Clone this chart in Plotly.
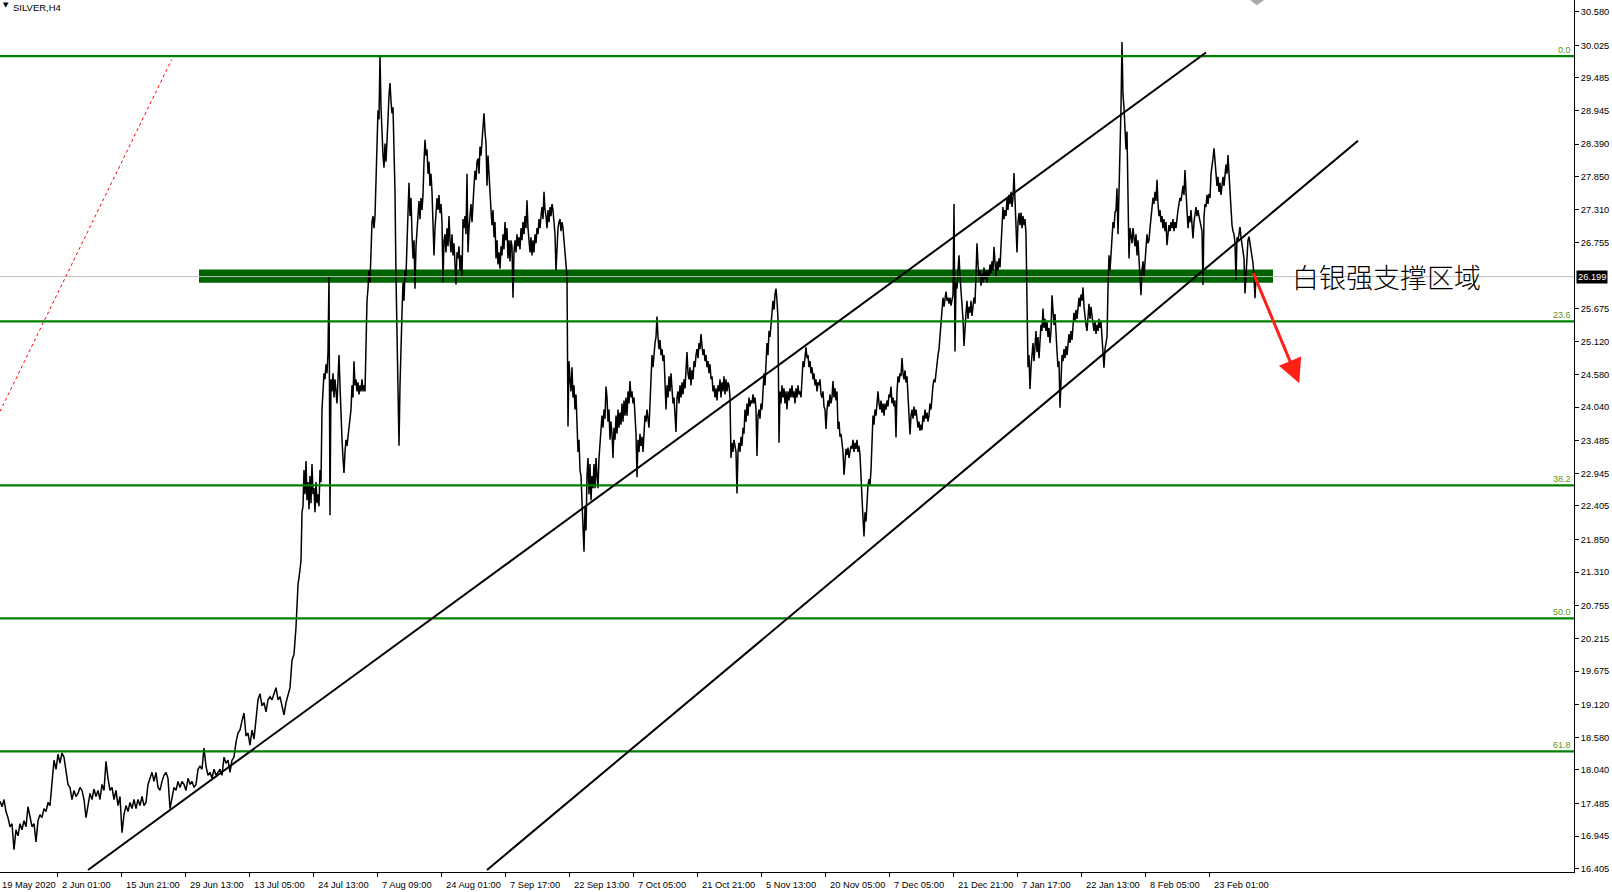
import plotly.graph_objects as go

# ---------------- price series (H4 bars; x = bar index, one bar per pixel column) -------------
# segment A: bars 0..300, every 2nd bar
start_a, step_a = 0, 2
close_a = [
    17.52, 17.43, 17.55, 17.35, 17.25, 17.10, 17.15, 16.72, 17.05, 16.95,
    17.15, 17.05, 17.20, 17.10, 17.43, 17.25, 17.10, 17.15, 16.85, 17.20,
    17.30, 17.25, 17.40, 17.35, 17.50, 17.45, 17.90, 18.20, 18.05, 18.30,
    18.15, 18.32, 18.25, 18.05, 17.80, 17.75, 17.55, 17.70, 17.60, 17.65,
    17.75, 17.70, 17.55, 17.25, 17.45, 17.65, 17.55, 17.72, 17.60, 17.70,
    17.55, 17.80, 17.70, 18.18, 17.90, 17.70, 17.75, 17.55, 17.70, 17.45,
    17.60, 17.00, 17.30, 17.45, 17.35, 17.50, 17.40, 17.55, 17.40, 17.55,
    17.45, 17.60, 17.45, 17.50, 17.80, 17.90, 18.00, 17.85, 18.00, 17.75,
    17.70, 17.85, 17.95, 18.00, 17.90, 17.40, 17.60, 17.75, 17.70, 17.85,
    17.75, 17.85, 17.80, 17.70, 17.90, 17.80, 17.85, 17.75, 17.80, 18.05,
    18.10, 18.05, 18.40, 18.10, 17.95, 18.00, 17.90, 18.05, 17.95, 18.00,
    18.05, 17.95, 18.25, 18.15, 18.20, 18.00, 18.20, 18.25, 18.50, 18.65,
    18.70, 18.85, 18.98, 18.60, 18.65, 18.45, 18.70, 18.55, 18.85, 19.20,
    19.30, 19.10, 19.15, 19.00, 19.20, 19.25, 19.20, 19.30, 19.40, 19.20,
    19.25, 19.10, 18.95, 19.15, 19.30, 19.40, 19.85, 19.95, 20.40, 21.10,
    21.35,
]
# segment B: bars 301..420
start_b = 301
close_b = [
    21.50, 22.30, 22.40, 23.00, 22.60, 23.15, 22.50, 22.80, 22.35, 22.90,
    22.45, 23.10, 22.60, 22.70, 22.30, 22.80, 22.45, 22.60, 22.40, 23.00,
    22.80, 24.00, 24.40, 24.60, 24.50, 24.75, 24.60, 24.95, 26.20, 22.25,
    24.50, 24.30, 24.60, 24.20, 24.50, 24.30, 24.10, 24.50, 24.90, 24.40,
    23.80, 23.50, 23.20, 22.95, 23.30, 23.50, 23.40, 23.60, 23.70, 23.85,
    24.00, 24.40, 24.20, 24.80, 24.40, 24.50, 24.30, 24.45, 24.25, 24.40,
    24.30, 24.50, 24.30, 24.40, 24.30, 25.40, 25.80, 26.00, 26.30, 26.10,
    26.90, 27.10, 27.20, 27.00, 27.20, 27.80, 28.30, 28.95, 28.80, 29.85,
    29.00, 28.50, 28.20, 28.00, 28.40, 28.10, 28.60, 28.80, 29.20, 29.40,
    29.10, 28.90, 29.00, 28.40, 27.60, 26.20, 25.30, 24.60, 23.40, 24.40,
    25.30, 25.60, 26.10, 25.80, 26.30, 26.20, 26.75, 27.40, 27.75, 27.20,
    27.50, 26.90, 26.50, 26.80, 26.00, 26.70, 27.00, 27.30, 27.45, 27.15,
]
# segment C: bars 421..820
start_c = 421
close_c = [
    27.50, 27.30, 27.55, 28.10, 28.46, 28.20, 28.30, 27.90, 28.10, 27.70,
    27.90, 27.60, 27.20, 26.55, 27.00, 27.30, 27.50, 27.30, 27.55, 27.25,
    27.40, 27.10, 26.10, 26.80, 26.90, 26.60, 27.00, 26.70, 27.20, 26.80,
    26.60, 26.90, 26.55, 26.75, 26.40, 26.07, 26.60, 26.50, 26.70, 26.30,
    26.55, 26.20, 27.15, 27.00, 27.20, 26.90, 27.90, 26.60, 27.00, 27.20,
    27.40, 27.10, 27.50, 27.70, 27.95, 27.80, 28.10, 28.15, 27.90, 28.35,
    28.20, 28.50, 28.70, 28.90, 28.60, 28.40, 27.70, 28.20, 27.90, 27.50,
    27.30, 27.05, 27.30, 26.85, 27.10, 26.50, 26.80, 26.40, 26.60, 26.33,
    26.70, 26.55, 26.90, 26.65, 27.10, 26.80, 27.00, 26.50, 26.80, 26.45,
    26.80, 26.70, 25.85, 26.60, 26.80, 26.60, 26.90, 26.70, 26.85, 26.65,
    27.00, 26.80, 27.10, 26.90, 27.20, 27.00, 27.46, 27.00, 26.80, 26.60,
    26.85, 26.55, 26.80, 26.60, 26.90, 26.75, 27.00, 26.90, 27.15, 27.00,
    27.20, 27.35, 27.15, 27.60, 27.30, 27.20, 27.00, 27.30, 27.10, 27.35,
    27.20, 27.40, 27.30, 27.00, 26.90, 26.30, 26.80, 27.00, 27.10, 27.15,
    26.95, 27.10, 27.00, 26.80, 26.70, 26.50, 26.20, 23.72, 24.80, 24.50,
    24.30, 24.70, 24.20, 24.40, 24.00, 24.25, 23.70, 23.30, 23.50, 23.00,
    22.90, 22.50, 22.20, 21.65, 22.40, 22.00, 22.90, 23.20, 22.60, 23.10,
    22.50, 22.90, 22.70, 23.10, 22.70, 23.20, 22.90, 22.70, 23.20, 23.50,
    23.60, 23.90, 23.70, 24.00, 23.85, 24.38, 24.20, 23.80, 24.00, 23.50,
    23.80, 23.60, 23.20, 23.70, 23.50, 23.90, 23.60, 24.00, 23.70, 23.95,
    23.75, 24.10, 23.80, 24.15, 23.90, 24.20, 23.90, 24.30, 24.10, 24.47,
    24.20, 24.30, 24.10, 24.20, 23.90, 23.60, 22.88, 23.50, 23.30, 23.60,
    23.40, 23.55, 23.30, 23.70, 23.90, 23.80, 24.00, 23.85, 23.70, 24.10,
    24.60, 24.90, 24.70, 25.00, 25.10, 25.20, 25.54, 25.20, 25.00, 25.15,
    24.90, 25.00, 24.80, 24.90, 24.20, 24.00, 24.40, 24.20, 24.55, 24.30,
    24.60, 24.35, 24.10, 24.20, 23.90, 23.63, 24.20, 24.30, 24.10, 24.40,
    24.20, 24.45, 24.25, 24.50, 24.35, 24.60, 24.95, 24.60, 24.50, 24.70,
    24.40, 24.65, 24.50, 24.80, 24.70, 24.90, 25.00, 24.85, 25.10, 25.00,
    25.25, 25.05, 24.90, 25.00, 24.80, 24.90, 24.70, 24.80, 24.60, 24.75,
    24.50, 24.55, 24.30, 24.40, 24.20, 24.35, 24.15, 24.40, 24.30, 24.50,
    24.20, 24.45, 24.30, 24.55, 24.25, 24.50, 24.30, 24.45, 24.40, 24.20,
    23.20, 23.45, 23.30, 23.50, 23.35, 23.30, 22.61, 23.30, 23.45, 23.30,
    23.55, 23.40, 23.70, 23.60, 24.00, 23.80, 24.10, 23.90, 24.20, 24.05,
    24.15, 24.10, 24.25, 24.10, 24.20, 24.00, 23.23, 23.90, 24.00, 23.85,
    24.10, 24.00, 24.30, 24.60, 24.40, 24.90, 25.10, 24.90, 25.30, 25.20,
    25.50, 25.60, 25.80, 25.65, 25.90, 26.00, 25.80, 25.50, 23.45, 24.30,
    24.10, 24.40, 24.20, 24.35, 24.10, 24.30, 24.00, 24.30, 24.15, 24.35,
    24.20, 24.40, 24.20, 24.30, 24.10, 24.35, 24.20, 24.40, 24.25, 24.30,
    24.20, 24.50, 24.80, 24.70, 24.95, 25.03, 24.85, 24.90, 24.70, 24.80,
    24.60, 24.70, 24.50, 24.60, 24.40, 24.50, 24.30, 24.45, 24.40, 24.50,
]
# segment D: bars 821..1256
start_d = 821
close_d = [
    24.25, 24.20, 24.30, 24.05, 24.00, 23.68, 24.00, 24.15, 24.05, 24.25,
    24.10, 24.20, 24.47, 24.20, 24.35, 24.15, 24.30, 23.68, 23.80, 23.55,
    23.60, 23.45, 23.30, 22.92, 23.20, 23.35, 23.25, 23.37, 23.20, 23.30,
    23.40, 23.35, 23.50, 23.30, 23.45, 23.35, 23.50, 23.30, 23.40, 23.25,
    22.80, 22.40, 22.20, 21.90, 22.30, 22.15, 22.57, 22.75, 22.85, 22.75,
    23.00, 23.40, 23.90, 23.75, 24.00, 23.90, 24.20, 24.30, 24.10, 24.00,
    24.15, 23.95, 24.10, 23.90, 24.10, 24.00, 24.15, 24.05, 24.25, 24.20,
    24.38, 24.10, 24.20, 24.05, 24.15, 23.54, 24.30, 24.55, 24.45, 24.60,
    24.55, 24.85, 24.60, 24.50, 24.65, 24.45, 24.55, 24.20, 24.00, 23.59,
    23.90, 24.00, 23.85, 24.05, 23.90, 24.00, 23.85, 23.70, 23.80, 23.65,
    23.75, 23.66, 23.90, 23.80, 24.00, 23.85, 23.95, 23.80, 23.90, 24.10,
    24.00, 24.25, 24.40, 24.50, 24.45, 24.60, 24.80, 24.90, 25.00, 25.20,
    25.30, 25.50, 25.85, 25.70, 25.90, 25.95, 25.80, 25.85, 25.75, 25.85,
    25.72, 25.80, 25.90, 27.40, 24.96, 26.10, 26.00, 26.30, 26.55, 26.20,
    26.00, 25.80, 25.50, 25.05, 25.40, 25.60, 25.80, 25.50, 25.70, 25.60,
    25.80, 25.55, 25.70, 25.85, 25.75, 26.20, 26.75, 26.40, 26.20, 26.30,
    26.05, 26.25, 26.10, 26.35, 26.15, 26.30, 26.10, 26.30, 26.20, 26.40,
    26.25, 26.45, 26.30, 26.69, 26.40, 26.20, 26.45, 26.30, 26.50, 26.35,
    26.70, 27.10, 27.35, 27.15, 27.30, 27.20, 27.50, 27.30, 27.55, 27.40,
    27.60, 27.35, 27.50, 27.91, 27.40, 27.20, 26.60, 27.10, 27.25, 27.05,
    27.26, 27.00, 27.20, 27.05, 27.15, 26.90, 26.02, 24.70, 24.90, 24.34,
    24.70, 24.90, 25.10, 24.80, 25.00, 25.30, 24.95, 25.20, 24.85, 25.10,
    25.40, 25.30, 25.67, 25.35, 25.50, 25.30, 25.45, 25.20, 25.35, 25.10,
    25.30, 25.89, 25.50, 25.40, 25.58, 25.10, 24.96, 24.70, 24.80, 24.03,
    24.70, 24.90, 24.80, 25.00, 24.85, 25.05, 24.90, 25.10, 25.25, 25.10,
    25.30, 25.15, 25.40, 25.60, 25.45, 25.65, 25.50, 25.75, 25.85, 25.70,
    25.90, 25.80, 26.02, 25.70, 25.50, 25.40, 25.30, 25.60, 25.75, 25.50,
    25.70, 25.55, 25.40, 25.30, 25.45, 25.25, 25.40, 25.30, 25.50, 25.35,
    25.45, 25.20, 24.90, 24.69, 25.00, 25.10, 25.20, 26.00, 26.55, 26.30,
    26.60, 26.82, 27.10, 27.00, 27.26, 27.30, 27.66, 26.90, 27.50, 28.20,
    29.00, 30.08, 29.20, 29.00, 28.50, 28.30, 28.60, 27.50, 26.50, 27.00,
    26.80, 26.75, 27.00, 26.85, 26.70, 26.90, 26.55, 26.80, 26.40, 26.20,
    25.89, 26.30, 26.45, 26.20, 26.50, 26.70, 26.90, 26.75, 26.80, 27.00,
    27.20, 27.35, 27.50, 27.40, 27.60, 27.45, 27.80, 27.40, 27.20, 27.30,
    27.10, 27.20, 27.00, 27.15, 26.95, 27.10, 26.72, 26.90, 27.05, 26.95,
    27.10, 27.00, 27.15, 26.95, 27.10, 27.00, 27.20, 27.30, 27.40, 27.50,
    27.45, 27.60, 27.70, 27.55, 27.96, 27.60, 27.30, 27.00, 27.20, 27.10,
    27.30, 26.95, 26.83, 27.10, 27.20, 27.35, 27.20, 27.30, 27.20, 27.10,
    27.00, 26.95, 26.06, 27.19, 27.40, 27.35, 27.55, 27.40, 27.57, 27.50,
    27.90, 28.00, 28.15, 28.32, 28.10, 27.95, 27.70, 27.85, 27.60, 27.75,
    27.55, 27.70, 27.85, 27.70, 27.95, 28.05, 27.90, 28.21, 27.90, 27.60,
    27.30, 27.05, 26.95, 26.90, 26.75, 26.14, 26.85, 26.80, 26.90, 27.02,
    26.85, 26.70, 26.60, 26.50, 25.92, 26.30, 26.42, 26.80, 26.86, 26.75,
    26.60, 26.50, 26.42, 26.20, 25.84, 26.199,
]
assert len(close_a) == 151 and len(close_b) == 120
assert len(close_c) == 400 and len(close_d) == 436

# ---------------- axes ----------------
x_tick_pos = [57.5 + 64 * k for k in range(19)]
x_tick_text = ["2 Jun 01:00", "15 Jun 21:00", "29 Jun 13:00", "13 Jul 05:00", "24 Jul 13:00",
               "7 Aug 09:00", "24 Aug 01:00", "7 Sep 17:00", "22 Sep 13:00", "7 Oct 05:00",
               "21 Oct 21:00", "5 Nov 13:00", "20 Nov 05:00", "7 Dec 05:00", "21 Dec 21:00",
               "7 Jan 17:00", "22 Jan 13:00", "8 Feb 05:00", "23 Feb 01:00"]
first_label = "19 May 2020"

y_tick_vals = [30.580, 30.025, 29.485, 28.945, 28.390, 27.850, 27.310, 26.755, 25.675,
               25.120, 24.580, 24.040, 23.485, 22.945, 22.405, 21.850, 21.310, 20.755,
               20.215, 19.675, 19.120, 18.580, 18.040, 17.485, 16.945, 16.405]
x_range = [0, 1574]
y_range = [16.351, 30.774]

# ---------------- drawn objects ----------------
fib_levels = [29.847, 25.459, 22.747, 20.547, 18.347]
fib_labels = ["0.0", "23.6", "38.2", "50.0", "61.8"]
last_price = 26.199

zone_bars = [199, 1273]
zone_prices = [26.096, 26.318]

chan1_bars = [88, 1206]
chan1_prices = [16.384, 29.905]
chan2_bars = [487, 1358]
chan2_prices = [16.384, 28.446]

red_dot_bars = [0, 171.7]
red_dot_prices = [23.969, 29.789]

arrow_bars = [1252.7, 1299.3]
arrow_prices = [26.280, 24.434]

note_text = "白银强支撑区域"
note_bar = 1290
symbol_title = "SILVER,H4"

# ---------------- build ----------------
xs, ys = [], []
for start, step, vals in [(start_a, step_a, close_a), (start_b, 1, close_b),
                          (start_c, 1, close_c), (start_d, 1, close_d)]:
    xs += [start + i * step for i in range(len(vals))]
    ys += vals

fig = go.Figure()
fig.add_trace(go.Scatter(x=xs, y=ys, mode="lines", line=dict(color="black", width=1.5),
                         hoverinfo="skip", showlegend=False))

shapes = []
shapes.append(dict(type="rect", xref="x", yref="y", x0=zone_bars[0], x1=zone_bars[1],
                   y0=zone_prices[0], y1=zone_prices[1], fillcolor="#006400",
                   line=dict(width=0), layer="below"))
for lv in fib_levels:
    shapes.append(dict(type="line", xref="paper", yref="y", x0=0, x1=1, y0=lv, y1=lv,
                       line=dict(color="#008000", width=2.2), layer="above"))
shapes.append(dict(type="line", xref="paper", yref="y", x0=0, x1=1, y0=last_price, y1=last_price,
                   line=dict(color="#c0c0c0", width=1), layer="above"))
for bx, pr in [(chan1_bars, chan1_prices), (chan2_bars, chan2_prices)]:
    shapes.append(dict(type="line", xref="x", yref="y", x0=bx[0], x1=bx[1], y0=pr[0], y1=pr[1],
                       line=dict(color="black", width=2), layer="above"))
shapes.append(dict(type="line", xref="x", yref="y", x0=red_dot_bars[0], x1=red_dot_bars[1],
                   y0=red_dot_prices[0], y1=red_dot_prices[1],
                   line=dict(color="#ff0000", width=1, dash="dot"), layer="above"))
# grey chart-shift marker at the top edge
shapes.append(dict(type="path", xref="x", yref="paper",
                   path="M 1250,1 L 1264,1 L 1257,0.994 Z",
                   fillcolor="#a8a8a8", line=dict(width=0), layer="above"))

label_font = dict(family="Liberation Sans, Arial", size=9.3, color="black")
ann = []
for txt, pos in zip(x_tick_text, x_tick_pos):
    ann.append(dict(text=txt, x=pos + 2.5, y=0, xref="x", yref="paper", xanchor="left",
                    yanchor="middle", yshift=-13, showarrow=False, font=label_font))
ann.append(dict(text=first_label, x=0, y=0, xref="paper", yref="paper",
                xanchor="left", yanchor="middle", xshift=0, yshift=-13, showarrow=False,
                font=label_font))
for txt, lv in zip(fib_labels, fib_levels):
    ann.append(dict(text=txt, x=1, y=lv, xref="paper", yref="y", xanchor="right",
                    yanchor="bottom", xshift=-2, yshift=0, borderpad=0, showarrow=False,
                    font=dict(family="Liberation Sans, Arial", size=9, color="#5e9410")))
ann.append(dict(text="%.3f" % last_price, x=1, y=last_price, xref="paper", yref="y",
                xanchor="left", yanchor="middle", xshift=2, showarrow=False,
                bgcolor="black", borderpad=1,
                font=dict(family="Liberation Sans, Arial", size=9.3, color="white")))
ann.append(dict(text=note_text, x=note_bar, y=last_price, xref="x", yref="y",
                xanchor="left", yanchor="middle", showarrow=False,
                font=dict(family="Noto Sans CJK SC", size=27, color="black", weight=300)))
ann.append(dict(text="", x=arrow_bars[1], y=arrow_prices[1], ax=arrow_bars[0], ay=arrow_prices[0],
                xref="x", yref="y", axref="x", ayref="y", showarrow=True,
                arrowhead=2, arrowsize=1.6, arrowwidth=3, arrowcolor="#ff2015"))
ann.append(dict(text="▼", x=0, y=1, xref="paper", yref="paper", xanchor="left", yanchor="top",
                xshift=1, yshift=1, showarrow=False,
                font=dict(family="DejaVu Sans", size=7, color="black")))
ann.append(dict(text=symbol_title, x=0, y=1, xref="paper", yref="paper", xanchor="left",
                yanchor="top", xshift=11, yshift=0, showarrow=False,
                font=dict(family="Liberation Sans, Arial", size=9.5, color="black")))

fig.update_layout(
    width=1612, height=892,
    margin=dict(l=0, r=38, t=0, b=20, pad=0),
    paper_bgcolor="white", plot_bgcolor="white",
    showlegend=False,
    shapes=shapes, annotations=ann,
    xaxis=dict(range=x_range, showgrid=False, zeroline=False, showline=True, linecolor="black",
               linewidth=1, ticks="outside", ticklen=4, tickcolor="black",
               tickvals=x_tick_pos, showticklabels=False, fixedrange=True),
    yaxis=dict(range=y_range, side="right", showgrid=False, zeroline=False, showline=True,
               linecolor="black", linewidth=1, ticks="outside", ticklen=4, tickcolor="black",
               tickvals=y_tick_vals, ticktext=["%.3f" % v for v in y_tick_vals],
               tickfont=dict(family="Liberation Sans, Arial", size=9.3, color="black"),
               fixedrange=True),
)

fig.write_html("out.html", config={"displayModeBar": False},
               post_script="document.body.style.margin='0';")
